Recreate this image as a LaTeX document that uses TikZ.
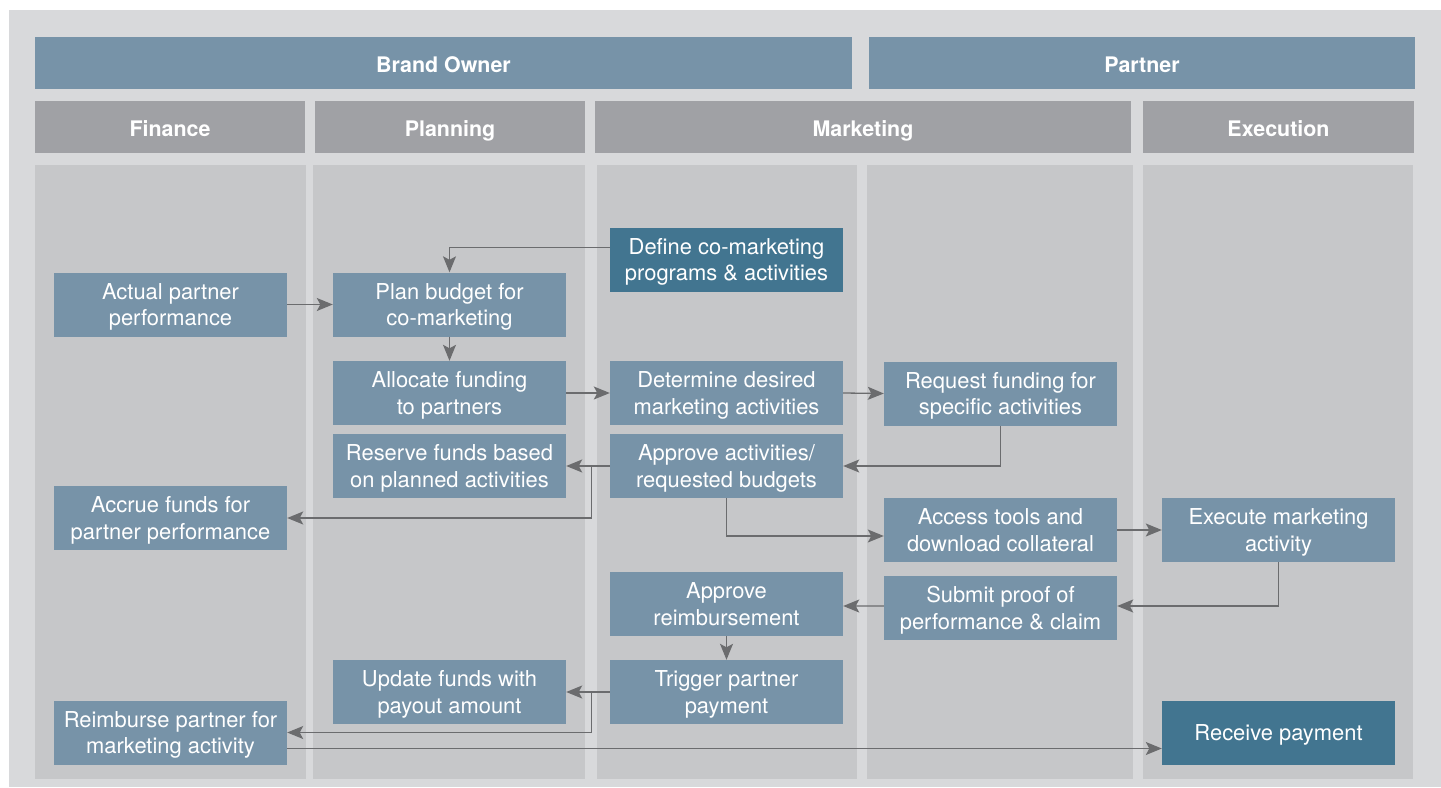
\documentclass[tikz,border=0pt]{standalone}
\usepackage{fontspec}
\setmainfont{TeX Gyre Heros}
\usepackage{xcolor}
\usepackage{tikz}
\usetikzlibrary{arrows.meta,calc,positioning}
\definecolor{pagegray}{HTML}{D8D9DB}
\definecolor{lanegray}{HTML}{C6C7C9}
\definecolor{headgray}{HTML}{A0A1A5}
\definecolor{stepblue}{HTML}{7793A8}
\definecolor{darkblue}{HTML}{427590}
\definecolor{flowgray}{HTML}{6B6C6E}
\newcommand{\drawLane}[2]{\fill[lanegray] (#1,165) rectangle (#2,779);}

\begin{document}
\begin{tikzpicture}[x=1bp,y=-1bp,
	every node/.style={text=white,align=center},
	head/.style={fill=stepblue,minimum height=52bp,inner sep=0pt,text height=19bp,text depth=0pt,font=\bfseries\fontsize{21.5}{24}\selectfont},
	sub/.style={head,fill=headgray},
	stepbox/.style={fill=stepblue,minimum width=233bp,minimum height=64bp,inner sep=0pt,text depth=-2bp,font=\fontsize{22}{27}\selectfont},
	keybox/.style={stepbox,fill=darkblue},
	flow/.style={draw=flowgray,line width=1.3bp,-{Stealth[length=16bp,width=13bp,inset=3.5bp]}}]
\useasboundingbox (0,0) rectangle (1441,787);
\fill[white] (0,0) rectangle (1441,787);
\fill[pagegray] (9,10) rectangle (1441,787);

\node[head,minimum width=817bp] (brand)   at (443.5,63) {Brand Owner};
\node[head,minimum width=546bp] (partner) at (1142,63)  {Partner};
\node[sub,minimum width=270bp] (finance)   at (170,127)  {Finance};
\node[sub,minimum width=270bp] (planning)  at (450,127)  {Planning};
\node[sub,minimum width=536bp] (marketing) at (863,127)  {Marketing};
\node[sub,minimum width=271bp] (execution) at (1278.5,127) {Execution};

\drawLane{35}{306}
\drawLane{313}{585}
\drawLane{597}{857}
\drawLane{867}{1133}
\drawLane{1143}{1413}

\node[stepbox] (actual)    at (170.5,304.5) {Actual partner\\performance};
\node[stepbox] (plan)      at (449.5,304.5) {Plan budget for\\co-marketing};
\node[keybox]  (define)    at (726.5,259.5) {Define co-marketing\\programs \& activities};
\node[stepbox] (allocate)  at (449.5,393)   {Allocate funding\\to partners};
\node[stepbox] (determine) at (726.5,393)   {Determine desired\\marketing activities};
\node[stepbox] (request)   at (1000.5,393.5) {Request funding for\\specific activities};
\node[stepbox] (reserve)   at (449.5,466)   {Reserve funds based\\on planned activities};
\node[stepbox] (approve)   at (726.5,466)   {Approve activities/\\requested budgets};
\node[stepbox] (accrue)    at (170.5,518)   {Accrue funds for\\partner performance};
\node[stepbox] (access)    at (1000.5,530)  {Access tools and\\download collateral};
\node[stepbox] (execute)   at (1278.5,530)  {Execute marketing\\activity};
\node[stepbox] (approveR)  at (726.5,604)   {Approve\\reimbursement};
\node[stepbox] (submit)    at (1000.5,608)  {Submit proof of\\performance \& claim};
\node[stepbox] (update)    at (449.5,692)   {Update funds with\\payout amount};
\node[stepbox] (trigger)   at (726.5,692)   {Trigger partner\\payment};
\node[stepbox] (reimburse) at (170.5,732.5) {Reimburse partner for\\marketing activity};
\node[keybox]  (receive)   at (1278.5,732.5) {Receive payment};

\coordinate (forkA) at ([xshift=-18bp]approve.west);
\coordinate (forkB) at ([xshift=-18bp]trigger.west);

\draw[flow] ([yshift=12bp]define.west) -| (plan.north);
\draw[flow] (actual.east) -- (plan.west);
\draw[flow] (plan.south) -- (allocate.north);
\draw[flow] (allocate.east) -- (determine.west);
\draw[flow] (determine.east) -- (request.west);
\draw[flow] (request.south) |- (approve.east);
\draw[flow] (approve.west) -- (reserve.east);
\draw[flow] (forkA) |- (accrue.east);
\draw[flow] (approve.south) |- ([yshift=-6bp]access.west);
\draw[flow] (access.east) -- (execute.west);
\draw[flow] (execute.south) |- ([yshift=2bp]submit.east);
\draw[flow] ([yshift=2bp]submit.west) -- ([yshift=-2bp]approveR.east);
\draw[flow] (approveR.south) -- (trigger.north);
\draw[flow] (trigger.west) -- (update.east);
\draw[flow] (forkB) |- (reimburse.east);
\draw[flow] ([yshift=-16bp]reimburse.east) -- ([yshift=-16bp]receive.west);
\end{tikzpicture}
\end{document}
